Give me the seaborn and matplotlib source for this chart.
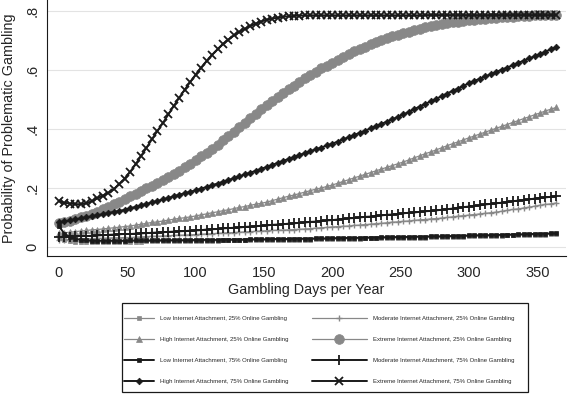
import matplotlib
matplotlib.use("Agg")
import matplotlib.pyplot as plt
from matplotlib.patches import Rectangle
import pandas as pd
import seaborn as sns

# Gambling days (markers every 4 days)
days = list(range(0, 365, 4))

# Predicted probabilities
low_25 = [0.030, 0.024, 0.020, 0.018, 0.017, 0.017, 0.017, 0.017, 0.017, 0.017, 0.018, 0.018, 0.018,
          0.018, 0.018, 0.018, 0.019, 0.019, 0.019, 0.019, 0.019, 0.020, 0.020, 0.020, 0.020, 0.020,
          0.021, 0.021, 0.021, 0.021, 0.022, 0.022, 0.022, 0.022, 0.022, 0.023, 0.023, 0.023, 0.023,
          0.024, 0.024, 0.024, 0.024, 0.025, 0.025, 0.025, 0.025, 0.026, 0.026, 0.026, 0.027, 0.027,
          0.027, 0.028, 0.028, 0.028, 0.029, 0.029, 0.029, 0.030, 0.030, 0.030, 0.031, 0.031, 0.031,
          0.032, 0.032, 0.032, 0.033, 0.033, 0.033, 0.034, 0.034, 0.035, 0.035, 0.036, 0.036, 0.037,
          0.037, 0.037, 0.038, 0.038, 0.039, 0.039, 0.040, 0.040, 0.041, 0.041, 0.042, 0.042, 0.043, 0.043]
mod_25 = [0.024, 0.025, 0.025, 0.026, 0.027, 0.027, 0.028, 0.029, 0.029, 0.030, 0.031, 0.031, 0.032,
          0.032, 0.033, 0.034, 0.035, 0.036, 0.036, 0.037, 0.038, 0.039, 0.040, 0.040, 0.041, 0.042,
          0.043, 0.044, 0.045, 0.046, 0.047, 0.048, 0.049, 0.050, 0.051, 0.052, 0.053, 0.054, 0.055,
          0.056, 0.057, 0.057, 0.058, 0.059, 0.060, 0.061, 0.062, 0.064, 0.065, 0.066, 0.068, 0.069,
          0.070, 0.071, 0.073, 0.074, 0.076, 0.077, 0.079, 0.080, 0.082, 0.084, 0.085, 0.087, 0.088,
          0.090, 0.092, 0.093, 0.095, 0.096, 0.098, 0.100, 0.102, 0.104, 0.106, 0.108, 0.110, 0.112,
          0.114, 0.116, 0.118, 0.121, 0.124, 0.127, 0.129, 0.132, 0.135, 0.138, 0.141, 0.144, 0.146, 0.149]
high_25 = [0.046, 0.048, 0.050, 0.052, 0.054, 0.056, 0.058, 0.059, 0.061, 0.063, 0.065, 0.067, 0.069,
           0.071, 0.074, 0.077, 0.080, 0.083, 0.085, 0.088, 0.091, 0.094, 0.097, 0.099, 0.102, 0.105,
           0.109, 0.112, 0.116, 0.119, 0.123, 0.126, 0.130, 0.134, 0.137, 0.141, 0.145, 0.148, 0.152,
           0.157, 0.162, 0.167, 0.172, 0.176, 0.181, 0.186, 0.191, 0.196, 0.200, 0.205, 0.210, 0.216,
           0.222, 0.228, 0.234, 0.240, 0.246, 0.252, 0.258, 0.264, 0.270, 0.276, 0.282, 0.288, 0.295,
           0.302, 0.309, 0.316, 0.322, 0.329, 0.336, 0.343, 0.350, 0.356, 0.363, 0.370, 0.376, 0.383,
           0.389, 0.396, 0.402, 0.409, 0.415, 0.422, 0.428, 0.435, 0.441, 0.448, 0.454, 0.461, 0.467, 0.473]
ext_25 = [0.080, 0.084, 0.089, 0.094, 0.100, 0.106, 0.113, 0.120, 0.128, 0.136, 0.145, 0.154, 0.163,
          0.172, 0.181, 0.190, 0.199, 0.208, 0.217, 0.227, 0.237, 0.248, 0.259, 0.270, 0.282, 0.294,
          0.307, 0.320, 0.333, 0.347, 0.361, 0.376, 0.391, 0.406, 0.421, 0.436, 0.451, 0.466, 0.480,
          0.494, 0.508, 0.521, 0.534, 0.547, 0.559, 0.571, 0.582, 0.594, 0.605, 0.615, 0.625, 0.635,
          0.645, 0.654, 0.663, 0.671, 0.679, 0.687, 0.694, 0.701, 0.708, 0.714, 0.720, 0.725, 0.730,
          0.735, 0.740, 0.744, 0.748, 0.752, 0.755, 0.758, 0.761, 0.764, 0.766, 0.768, 0.770, 0.772,
          0.774, 0.776, 0.777, 0.779, 0.780, 0.781, 0.782, 0.783, 0.784, 0.785, 0.785, 0.786, 0.787, 0.787]
low_75 = [0.070, 0.045, 0.033, 0.027, 0.024, 0.022, 0.021, 0.021, 0.021, 0.021, 0.021, 0.021, 0.021,
          0.022, 0.022, 0.022, 0.022, 0.022, 0.022, 0.023, 0.023, 0.023, 0.023, 0.023, 0.023, 0.024,
          0.024, 0.024, 0.024, 0.024, 0.025, 0.025, 0.025, 0.025, 0.025, 0.026, 0.026, 0.026, 0.026,
          0.027, 0.027, 0.027, 0.027, 0.028, 0.028, 0.028, 0.028, 0.029, 0.029, 0.029, 0.030, 0.030,
          0.030, 0.031, 0.031, 0.031, 0.032, 0.032, 0.032, 0.033, 0.033, 0.033, 0.034, 0.034, 0.034,
          0.035, 0.035, 0.035, 0.036, 0.036, 0.036, 0.037, 0.037, 0.038, 0.038, 0.039, 0.039, 0.040,
          0.040, 0.040, 0.041, 0.041, 0.042, 0.042, 0.043, 0.043, 0.044, 0.044, 0.045, 0.045, 0.046, 0.046]
mod_75 = [0.033, 0.034, 0.035, 0.036, 0.037, 0.037, 0.038, 0.039, 0.040, 0.041, 0.042, 0.043, 0.044,
          0.044, 0.045, 0.046, 0.047, 0.048, 0.049, 0.050, 0.051, 0.052, 0.053, 0.054, 0.055, 0.056,
          0.057, 0.059, 0.060, 0.061, 0.063, 0.064, 0.065, 0.066, 0.068, 0.069, 0.070, 0.072, 0.073,
          0.075, 0.076, 0.077, 0.079, 0.080, 0.082, 0.083, 0.085, 0.086, 0.088, 0.090, 0.091, 0.093,
          0.095, 0.097, 0.098, 0.100, 0.102, 0.103, 0.105, 0.107, 0.109, 0.110, 0.112, 0.114, 0.116,
          0.117, 0.119, 0.121, 0.122, 0.124, 0.126, 0.128, 0.130, 0.133, 0.135, 0.137, 0.139, 0.141,
          0.144, 0.146, 0.148, 0.150, 0.152, 0.155, 0.157, 0.159, 0.161, 0.164, 0.166, 0.168, 0.170, 0.172]
high_75 = [0.083, 0.087, 0.090, 0.094, 0.097, 0.101, 0.104, 0.108, 0.111, 0.115, 0.119, 0.122, 0.126,
           0.131, 0.136, 0.141, 0.146, 0.151, 0.156, 0.161, 0.166, 0.172, 0.177, 0.182, 0.187, 0.192,
           0.198, 0.203, 0.209, 0.215, 0.221, 0.227, 0.233, 0.239, 0.246, 0.252, 0.258, 0.265, 0.271,
           0.278, 0.285, 0.292, 0.298, 0.305, 0.312, 0.318, 0.325, 0.331, 0.337, 0.344, 0.350, 0.357,
           0.365, 0.372, 0.379, 0.387, 0.394, 0.402, 0.410, 0.417, 0.425, 0.433, 0.441, 0.449, 0.458,
           0.467, 0.476, 0.485, 0.493, 0.502, 0.511, 0.520, 0.529, 0.537, 0.546, 0.555, 0.563, 0.570,
           0.578, 0.586, 0.593, 0.601, 0.608, 0.616, 0.624, 0.631, 0.639, 0.646, 0.654, 0.662, 0.670, 0.678]
ext_75 = [0.155, 0.150, 0.147, 0.145, 0.145, 0.148, 0.155, 0.165, 0.174, 0.183, 0.195, 0.212, 0.232,
          0.254, 0.280, 0.308, 0.336, 0.365, 0.393, 0.420, 0.449, 0.478, 0.506, 0.533, 0.559, 0.584,
          0.608, 0.630, 0.651, 0.670, 0.688, 0.703, 0.717, 0.729, 0.739, 0.749, 0.757, 0.764, 0.770,
          0.774, 0.777, 0.780, 0.782, 0.783, 0.784, 0.785, 0.785, 0.785, 0.785, 0.785, 0.785, 0.785,
          0.785, 0.785, 0.785, 0.785, 0.785, 0.785, 0.785, 0.785, 0.785, 0.785, 0.785, 0.785, 0.785,
          0.785, 0.785, 0.786, 0.786, 0.786, 0.786, 0.786, 0.786, 0.786, 0.786, 0.786, 0.786, 0.786,
          0.786, 0.786, 0.786, 0.786, 0.786, 0.786, 0.786, 0.786, 0.786, 0.786, 0.786, 0.786, 0.786, 0.786]

labels = ["Low Internet Attachment, 25% Online Gambling",
          "Moderate Internet Attachment, 25% Online Gambling",
          "High Internet Attachment, 25% Online Gambling",
          "Extreme Internet Attachment, 25% Online Gambling",
          "Low Internet Attachment, 75% Online Gambling",
          "Moderate Internet Attachment, 75% Online Gambling",
          "High Internet Attachment, 75% Online Gambling",
          "Extreme Internet Attachment, 75% Online Gambling"]
series = [low_25, mod_25, high_25, ext_25, low_75, mod_75, high_75, ext_75]

gray = "#888888"
dark = "#1a1a1a"
# (color, marker, markersize, linewidth, marker edge width)
styles = [(gray, "s", 3.0, 0.9, 0.5),
          (gray, "+", 5.0, 0.9, 1.0),
          (gray, "^", 4.2, 0.9, 0.5),
          (gray, "o", 7.0, 0.9, 0.5),
          (dark, "s", 3.4, 1.4, 0.5),
          (dark, "+", 7.0, 1.4, 1.3),
          (dark, "D", 3.4, 1.4, 0.5),
          (dark, "x", 6.0, 1.4, 1.3)]

sns.set_style("white")
plt.rcParams["font.family"] = ["Liberation Sans", "DejaVu Sans"]

fig = plt.figure(figsize=(5.68, 3.95), dpi=100)
ax = fig.add_axes([0.0827, 0.352, 0.9137, 0.648])

for lab, vals, (col, mk, ms, lw, mew) in zip(labels, series, styles):
    df = pd.DataFrame({"day": days, "prob": vals})
    sns.lineplot(data=df, x="day", y="prob", ax=ax, color=col, linewidth=lw,
                 marker=mk, markersize=ms, markeredgewidth=mew,
                 markeredgecolor=col, markerfacecolor=col, label=lab)

ax.set_xlim(-8.8, 371)
ax.set_ylim(-0.0305, 0.837)
ax.set_xticks(range(0, 351, 50))
ax.set_yticks([0, 0.2, 0.4, 0.6, 0.8])
ax.set_yticklabels(["0", ".2", ".4", ".6", ".8"], rotation=90, va="center")
ax.tick_params(axis="x", labelsize=10.5, length=5, width=0.8, color=dark,
               direction="out", pad=2.5)
ax.tick_params(axis="y", labelsize=10.5, length=5, width=0.8, color=dark,
               direction="out", pad=0.5)
ax.yaxis.grid(True, color="#e3e3e3", linewidth=0.8)
ax.xaxis.grid(False)
for side in ["top", "right"]:
    ax.spines[side].set_visible(False)
for side in ["left", "bottom"]:
    ax.spines[side].set_color(dark)
    ax.spines[side].set_linewidth(0.8)

ax.set_xlabel("Gambling Days per Year", fontsize=10.4, labelpad=2)
ax.set_ylabel("Probability of Problematic Gambling", fontsize=10.4, labelpad=7)

# Legend: a box below the plot holding two columns of keys
handles, labs = ax.get_legend_handles_labels()
ax.get_legend().remove()

fig.patches.append(Rectangle((122 / 568, 1 - 392 / 395), 406 / 568, 89 / 395,
                             transform=fig.transFigure, fill=False,
                             edgecolor=dark, linewidth=0.9))

leg_kw = dict(loc="upper left", fontsize=4.3, frameon=False, borderpad=0,
              borderaxespad=0, labelspacing=2.62, handletextpad=1.0)
col1 = [0, 2, 4, 6]
col2 = [1, 3, 5, 7]
fig.legend([handles[i] for i in col1], [labs[i] for i in col1],
           bbox_to_anchor=(124 / 568, 1 - 316 / 395), handlelength=5.0, **leg_kw)
fig.legend([handles[i] for i in col2], [labs[i] for i in col2],
           bbox_to_anchor=(312 / 568, 1 - 316 / 395), handlelength=9.2, **leg_kw)

fig.savefig("out.png", dpi=100)
